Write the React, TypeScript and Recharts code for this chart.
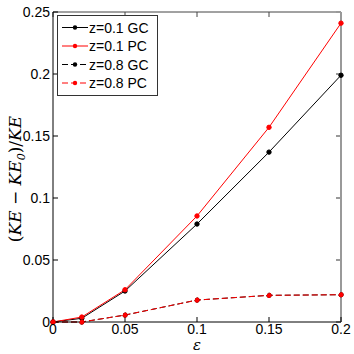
import React from 'react';
import { LineChart, Line, XAxis, YAxis, Legend, Label } from 'recharts';

// epsilon values (x axis)
const eps = [0, 0.02, 0.05, 0.1, 0.15, 0.2];

// relative kinetic energy change per run
const z01GC = [0, 0.003, 0.025, 0.079, 0.137, 0.199];
const z01PC = [0, 0.004, 0.026, 0.0855, 0.157, 0.241];
const z08GC = [0, 0, 0.0056, 0.0177, 0.0215, 0.022];
const z08PC = [0, 0, 0.0056, 0.0177, 0.0215, 0.022];

const xTicks = [0, 0.05, 0.1, 0.15, 0.2];
const yTicks = [0, 0.05, 0.1, 0.15, 0.2, 0.25];

// the hidden z=0.8 GC line sits on the box axes so they get drawn
const seriesInfo = [
  { key: 'z01GC', name: 'z=0.1 GC', color: '#000000', dash: undefined, xId: 0, yId: 0 },
  { key: 'z01PC', name: 'z=0.1 PC', color: '#ff0000', dash: undefined, xId: 0, yId: 0 },
  { key: 'z08GC', name: 'z=0.8 GC', color: '#000000', dash: '6 3', xId: 'top', yId: 'right' },
  { key: 'z08PC', name: 'z=0.8 PC', color: '#ff0000', dash: '6 3', xId: 0, yId: 0 },
];

const data = eps.map((x, i) => ({
  x,
  z01GC: z01GC[i],
  z01PC: z01PC[i],
  z08GC: z08GC[i],
  z08PC: z08PC[i],
}));

const FONT = 'Liberation Sans, Arial, sans-serif';
const tickStyle = { fontSize: 14, fill: '#000', fontFamily: FONT };
const noLabel = () => <g />;

const LegendBox = () => (
  <svg width={101} height={81} style={{ display: 'block' }}>
    <rect x={0.5} y={0.5} width={100} height={80} fill="#fff" stroke="#333" />
    {seriesInfo.map((s, i) => {
      const y = 12.5 + i * 18.5;
      return (
        <g key={s.key}>
          <line x1={5} x2={31} y1={y} y2={y} stroke={s.color} strokeDasharray={s.dash} />
          <circle cx={18} cy={y} r={2.2} fill={s.color} />
          <text x={32} y={y} dy="0.36em" fontSize={14} fontFamily={FONT} fill="#000">
            {s.name}
          </text>
        </g>
      );
    })}
  </svg>
);

const YLabel = (props: any) => {
  const { viewBox } = props;
  const cx = viewBox.x + 15;
  const cy = viewBox.y + viewBox.height / 2 + 12;
  return (
    <text
      x={cx}
      y={cy}
      transform={`rotate(-90, ${cx}, ${cy})`}
      textAnchor="middle"
      dy="0.35em"
      fontSize={17}
      fontStyle="italic"
      fontFamily="DejaVu Serif, serif"
      fill="#000"
    >
      <tspan fontStyle="normal">(</tspan>KE <tspan fontStyle="normal">−</tspan> KE
      <tspan fontSize={11} dy="4">0</tspan>
      <tspan dy="-4" fontStyle="normal">)/</tspan>KE
    </text>
  );
};

export default function App() {
  return (
    <div style={{ position: 'absolute', left: 0, top: 0, background: '#fff' }}>
      <LineChart
        width={354}
        height={354}
        data={data}
        margin={{ top: 11, right: 12, bottom: 0, left: 0 }}
      >
        <XAxis
          xAxisId="top"
          orientation="top"
          type="number"
          dataKey="x"
          domain={[0, 0.2]}
          ticks={xTicks}
          height={1}
          tick={noLabel}
          tickSize={-5}
          stroke="#444"
        />
        <YAxis
          yAxisId="right"
          orientation="right"
          type="number"
          domain={[0, 0.25]}
          ticks={yTicks}
          width={1}
          tick={noLabel}
          tickSize={-5}
          stroke="#999"
          strokeWidth={2}
        />
        <XAxis
          type="number"
          dataKey="x"
          domain={[0, 0.2]}
          ticks={xTicks}
          tickFormatter={(v) => String(v)}
          height={32}
          tickSize={-5}
          tickMargin={7}
          tick={tickStyle}
          stroke="#000"
        >
          <Label
            value="ε"
            position="insideBottom"
            offset={4}
            style={{ fontSize: 15, fontStyle: 'italic', fontFamily: 'DejaVu Serif, serif', fill: '#000' }}
          />
        </XAxis>
        <YAxis
          type="number"
          domain={[0, 0.25]}
          ticks={yTicks}
          tickFormatter={(v) => String(v)}
          width={53}
          tickSize={-5}
          tickMargin={8}
          tick={tickStyle}
          stroke="#000"
          label={<YLabel />}
        />
        <Legend
          layout="horizontal"
          verticalAlign="middle"
          align="center"
          content={<LegendBox />}
          wrapperStyle={{ position: 'absolute', left: 57, top: 15, width: 'auto', height: 'auto' }}
        />
        {seriesInfo.map((s) => (
          <Line
            key={s.key}
            xAxisId={s.xId}
            yAxisId={s.yId}
            type="linear"
            dataKey={s.key}
            name={s.name}
            stroke={s.color}
            strokeWidth={1}
            strokeDasharray={s.dash}
            dot={{ r: 2.2, fill: s.color, stroke: s.color, strokeWidth: 1 }}
            isAnimationActive={false}
          />
        ))}
      </LineChart>
    </div>
  );
}
